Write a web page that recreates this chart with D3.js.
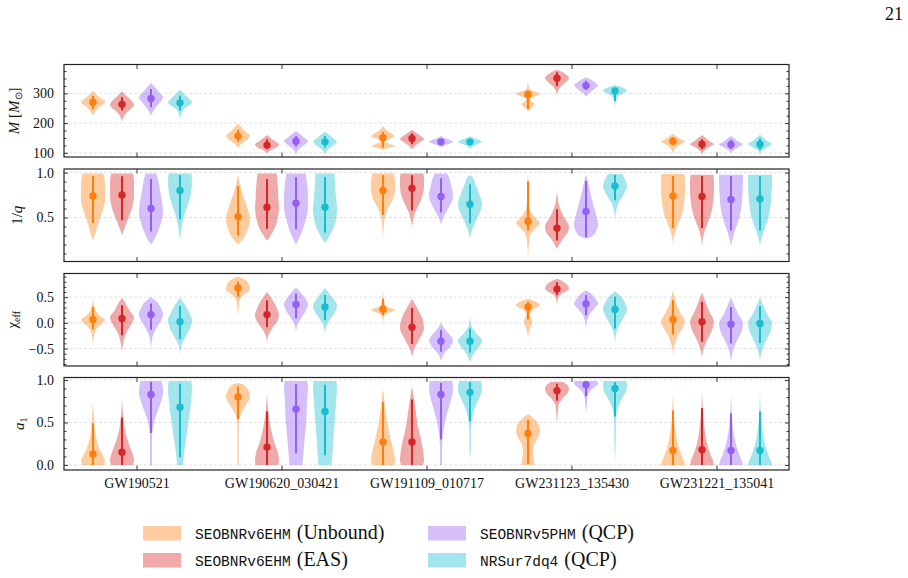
<!DOCTYPE html>
<html>
<head>
<meta charset="utf-8">
<script src="https://cdn.jsdelivr.net/npm/d3@7"></script>
<style>
  body { margin: 0; background: #fff; }
</style>
</head>
<body>
<div id="chart"></div>
<script>
// events on the x axis, waveform models (one violin each)
const events = ["GW190521", "GW190620_030421", "GW191109_010717", "GW231123_135430", "GW231221_135041"];
const modelCodes = ["SEOBNRv6EHM", "SEOBNRv6EHM", "SEOBNRv5PHM", "NRSur7dq4"];
const modelTags = ["(Unbound)", "(EAS)", "(QCP)", "(QCP)"];
const modelColors = ["#ff7f0e", "#d62728", "#9360f6", "#17becf"];

// tick labels per panel
const massTicks = [100, 200, 300];
const invQTicks = [0.5, 1.0];
const chiTicks = [-0.5, 0.0, 0.5];
const a1Ticks = [0.0, 0.5, 1.0];

// each violin: [median, lower, upper, [[value, relative width], ...]]
// order inside an event: Unbound, EAS, v5PHM, NRSur
const massViolins = [
  [
    [270, 247, 292, [[225,0],[240,0.2],[255,0.55],[265,0.9],[272,1],[282,0.7],[295,0.3],[309,0]]],
    [263, 242, 287, [[205,0],[222,0.15],[240,0.5],[252,0.85],[262,1],[275,0.8],[290,0.4],[306,0]]],
    [283, 253, 315, [[225,0],[245,0.25],[265,0.65],[280,0.95],[287,1],[302,0.7],[320,0.35],[335,0]]],
    [268, 242, 292, [[211,0],[230,0.1],[250,0.4],[262,0.85],[270,1],[282,0.75],[298,0.35],[312,0]]]
  ],
  [
    [157, 137, 178, [[118,0],[132,0.35],[148,0.85],[158,1],[170,0.65],[185,0.3],[199,0]]],
    [126, 112, 146, [[99,0],[110,0.35],[120,0.85],[128,1],[138,0.7],[150,0.3],[160,0]]],
    [139, 121, 157, [[98,0],[115,0.3],[130,0.8],[140,1],[152,0.65],[164,0.3],[174,0]]],
    [137, 118, 157, [[96,0],[113,0.3],[128,0.8],[137,1],[150,0.65],[162,0.3],[171,0]]]
  ],
  [
    [151, 118, 171, [[110,0],[116,0.4],[123,1],[130,0.55],[138,0.15],[146,0.45],[154,0.95],[160,0.9],[170,0.5],[180,0.2],[190,0]]],
    [148, 129, 166, [[112,0],[125,0.3],[138,0.75],[146,1],[155,0.8],[166,0.4],[178,0]]],
    [137, 128, 146, [[118,0],[126,0.35],[132,0.8],[137,1],[143,0.75],[150,0.3],[157,0]]],
    [137, 126, 146, [[110,0],[122,0.2],[130,0.65],[137,1],[143,0.75],[150,0.3],[157,0]]]
  ],
  [
    [296, 247, 309, [[236,0],[248,0.15],[256,0.4],[264,0.55],[272,0.3],[280,0.15],[290,0.6],[298,1],[306,0.55],[315,0.15],[325,0.06],[335,0]]],
    [351, 324, 371, [[287,0],[305,0.06],[322,0.3],[338,0.75],[352,1],[365,0.7],[374,0.3],[380,0]]],
    [326, 311, 342, [[289,0],[300,0.25],[315,0.7],[326,1],[338,0.7],[348,0.3],[354,0]]],
    [308, 274, 319, [[252,0],[270,0.06],[290,0.25],[302,0.75],[310,1],[320,0.6],[328,0]]]
  ],
  [
    [139, 126, 152, [[99,0],[115,0.2],[128,0.6],[137,1],[147,0.6],[157,0.25],[165,0]]],
    [129, 112, 146, [[93,0],[108,0.2],[120,0.6],[129,1],[140,0.6],[152,0.25],[160,0]]],
    [128, 113, 144, [[98,0],[110,0.25],[120,0.65],[128,1],[138,0.6],[150,0.25],[157,0]]],
    [129, 110, 148, [[96,0],[110,0.25],[120,0.65],[129,1],[140,0.6],[152,0.25],[161,0]]]
  ]
];

const invQViolins = [
  [
    [0.74, 0.44, 0.96, [[0.245,0],[0.3,0.15],[0.4,0.35],[0.5,0.6],[0.6,0.85],[0.7,1],[0.85,1],[0.95,0.95],[0.99,0.85]]],
    [0.75, 0.47, 0.96, [[0.30,0],[0.35,0.12],[0.45,0.4],[0.55,0.7],[0.65,0.92],[0.75,1],[0.9,1],[0.99,0.9]]],
    [0.60, 0.345, 0.93, [[0.2,0],[0.25,0.25],[0.35,0.6],[0.45,0.85],[0.55,1],[0.65,0.95],[0.8,0.75],[0.92,0.6],[0.99,0.45]]],
    [0.80, 0.48, 0.97, [[0.25,0],[0.35,0.1],[0.5,0.3],[0.6,0.55],[0.7,0.8],[0.8,0.95],[0.9,1],[0.99,0.95]]]
  ],
  [
    [0.51, 0.30, 0.85, [[0.2,0],[0.27,0.45],[0.38,0.85],[0.48,1],[0.58,0.85],[0.7,0.55],[0.8,0.3],[0.9,0.12],[0.975,0]]],
    [0.615, 0.375, 0.93, [[0.24,0],[0.3,0.3],[0.4,0.7],[0.5,0.9],[0.6,1],[0.7,0.95],[0.85,0.9],[0.99,0.8]]],
    [0.66, 0.37, 0.95, [[0.2,0],[0.28,0.3],[0.4,0.65],[0.5,0.85],[0.6,1],[0.75,1],[0.9,0.9],[0.99,0.8]]],
    [0.615, 0.333, 0.95, [[0.215,0],[0.28,0.3],[0.4,0.75],[0.5,0.95],[0.6,1],[0.72,0.92],[0.85,0.85],[0.99,0.8]]]
  ],
  [
    [0.80, 0.53, 0.97, [[0.26,0],[0.4,0.06],[0.5,0.15],[0.6,0.4],[0.7,0.8],[0.8,1],[0.9,1],[0.99,0.9]]],
    [0.826, 0.578, 0.97, [[0.38,0],[0.45,0.06],[0.55,0.25],[0.65,0.6],[0.75,0.9],[0.85,1],[0.95,1],[0.99,0.95]]],
    [0.733, 0.555, 0.937, [[0.426,0],[0.5,0.2],[0.6,0.6],[0.7,0.95],[0.75,1],[0.85,0.85],[0.95,0.65],[0.99,0.5]]],
    [0.648, 0.437, 0.87, [[0.263,0],[0.35,0.15],[0.45,0.45],[0.55,0.8],[0.65,1],[0.75,0.8],[0.85,0.5],[0.95,0.2],[0.974,0]]]
  ],
  [
    [0.456, 0.356, 0.90, [[0.056,0],[0.2,0.07],[0.3,0.15],[0.38,0.6],[0.44,1],[0.5,0.6],[0.6,0.15],[0.7,0.09],[0.85,0.07],[0.985,0]]],
    [0.38, 0.244, 0.593, [[0.148,0],[0.2,0.2],[0.28,0.6],[0.35,0.95],[0.4,1],[0.5,0.6],[0.6,0.25],[0.7,0.08],[0.807,0]]],
    [0.567, 0.281, 0.907, [[0.263,0],[0.29,0.5],[0.35,0.85],[0.42,1],[0.5,0.9],[0.6,0.7],[0.7,0.5],[0.8,0.32],[0.9,0.15],[0.985,0]]],
    [0.852, 0.689, 0.974, [[0.456,0],[0.55,0.06],[0.65,0.25],[0.75,0.7],[0.85,1],[0.92,0.85],[0.985,0.6]]]
  ],
  [
    [0.74, 0.381, 0.963, [[0.185,0],[0.3,0.1],[0.4,0.35],[0.5,0.65],[0.6,0.85],[0.7,0.95],[0.8,1],[0.9,1],[0.985,0.95]]],
    [0.733, 0.381, 0.963, [[0.17,0],[0.3,0.12],[0.4,0.35],[0.5,0.65],[0.6,0.85],[0.7,0.95],[0.8,1],[0.9,1],[0.975,0.95]]],
    [0.70, 0.356, 0.963, [[0.185,0],[0.3,0.2],[0.4,0.45],[0.5,0.7],[0.6,0.85],[0.75,0.95],[0.9,1],[0.975,1]]],
    [0.707, 0.356, 0.963, [[0.196,0],[0.3,0.2],[0.4,0.45],[0.5,0.7],[0.6,0.85],[0.75,0.95],[0.9,1],[0.975,1]]]
  ]
];

const chiViolins = [
  [
    [0.065, -0.12, 0.31, [[-0.4,0],[-0.3,0.06],[-0.15,0.2],[-0.02,0.7],[0.06,1],[0.15,0.5],[0.3,0.15],[0.49,0]]],
    [0.084, -0.24, 0.34, [[-0.58,0],[-0.4,0.1],[-0.2,0.35],[-0.02,0.8],[0.1,1],[0.25,0.6],[0.4,0.25],[0.49,0]]],
    [0.16, -0.14, 0.377, [[-0.53,0],[-0.3,0.1],[-0.1,0.45],[0.05,0.85],[0.18,1],[0.3,0.8],[0.42,0.45],[0.5,0]]],
    [0.02, -0.32, 0.33, [[-0.63,0],[-0.45,0.1],[-0.3,0.4],[-0.1,0.85],[0.05,1],[0.2,0.75],[0.35,0.4],[0.49,0]]]
  ],
  [
    [0.68, 0.506, 0.80, [[0.117,0],[0.3,0.06],[0.45,0.15],[0.55,0.5],[0.65,1],[0.75,0.9],[0.85,0.5],[0.9,0]]],
    [0.16, -0.08, 0.44, [[-0.39,0],[-0.25,0.1],[-0.1,0.45],[0.05,0.9],[0.15,1],[0.3,0.8],[0.45,0.45],[0.6,0]]],
    [0.357, 0.084, 0.57, [[-0.175,0],[-0.05,0.1],[0.1,0.45],[0.25,0.85],[0.36,1],[0.5,0.7],[0.6,0.35],[0.69,0]]],
    [0.31, 0.05, 0.54, [[-0.21,0],[-0.08,0.1],[0.08,0.45],[0.22,0.85],[0.33,1],[0.45,0.75],[0.57,0.35],[0.68,0]]]
  ],
  [
    [0.266, 0.15, 0.47, [[-0.1,0],[0.1,0.06],[0.18,0.3],[0.25,1],[0.32,0.3],[0.45,0.08],[0.655,0]]],
    [-0.084, -0.41, 0.29, [[-0.66,0],[-0.5,0.2],[-0.3,0.65],[-0.1,1],[0.1,0.85],[0.3,0.4],[0.47,0]]],
    [-0.357, -0.565, -0.14, [[-0.75,0],[-0.6,0.25],[-0.45,0.8],[-0.35,1],[-0.2,0.6],[-0.1,0.25],[0.006,0]]],
    [-0.357, -0.578, -0.11, [[-0.76,0],[-0.6,0.3],[-0.45,0.8],[-0.35,1],[-0.2,0.5],[-0.05,0.1],[0.16,0]]]
  ],
  [
    [0.31, 0.07, 0.41, [[-0.37,0],[-0.2,0.06],[-0.08,0.2],[0,0.35],[0.07,0.3],[0.15,0.15],[0.25,0.4],[0.34,1],[0.42,0.6],[0.47,0]]],
    [0.656, 0.54, 0.79, [[0.31,0],[0.45,0.06],[0.55,0.3],[0.62,0.8],[0.67,1],[0.75,0.8],[0.82,0.4],[0.86,0]]],
    [0.37, 0.15, 0.54, [[-0.11,0],[0,0.06],[0.15,0.25],[0.28,0.7],[0.37,1],[0.48,0.75],[0.58,0.35],[0.636,0]]],
    [0.26, -0.11, 0.506, [[-0.42,0],[-0.25,0.06],[-0.1,0.25],[0.1,0.7],[0.26,1],[0.4,0.8],[0.52,0.45],[0.617,0]]]
  ],
  [
    [0.065, -0.227, 0.44, [[-0.63,0],[-0.45,0.1],[-0.25,0.4],[-0.05,0.9],[0.03,1],[0.2,0.6],[0.4,0.25],[0.636,0]]],
    [0.02, -0.37, 0.41, [[-0.68,0],[-0.5,0.15],[-0.3,0.5],[-0.1,0.9],[0.02,1],[0.2,0.65],[0.4,0.3],[0.6,0]]],
    [-0.026, -0.4, 0.31, [[-0.75,0],[-0.55,0.15],[-0.35,0.5],[-0.15,0.9],[-0.01,1],[0.15,0.65],[0.35,0.25],[0.49,0]]],
    [-0.013, -0.39, 0.33, [[-0.74,0],[-0.55,0.15],[-0.35,0.5],[-0.15,0.9],[0,1],[0.15,0.65],[0.35,0.25],[0.5,0]]]
  ]
];

const a1Violins = [
  [
    [0.13, 0.0, 0.49, [[0,0.9],[0.05,1],[0.1,0.85],[0.2,0.5],[0.3,0.3],[0.4,0.17],[0.5,0.1],[0.6,0.06],[0.74,0]]],
    [0.15, 0.0, 0.56, [[0,0.9],[0.05,1],[0.1,0.95],[0.2,0.7],[0.3,0.45],[0.4,0.25],[0.5,0.15],[0.6,0.08],[0.81,0]]],
    [0.83, 0.376, 0.976, [[0,0.08],[0.2,0.08],[0.35,0.09],[0.45,0.17],[0.55,0.35],[0.65,0.6],[0.75,0.85],[0.85,1],[0.95,0.95],[0.99,0.85]]],
    [0.68, 0.09, 0.957, [[0,0.25],[0.1,0.3],[0.2,0.4],[0.35,0.55],[0.5,0.7],[0.65,0.85],[0.8,0.95],[0.9,1],[0.99,0.95]]]
  ],
  [
    [0.80, 0.54, 0.925, [[0,0.06],[0.3,0.06],[0.5,0.08],[0.6,0.25],[0.7,0.65],[0.8,1],[0.88,0.85],[0.95,0.4],[0.965,0]]],
    [0.21, 0.0, 0.63, [[0,0.95],[0.05,1],[0.15,0.9],[0.25,0.65],[0.35,0.45],[0.45,0.3],[0.55,0.18],[0.65,0.1],[0.84,0]]],
    [0.66, 0.14, 0.95, [[0,0.55],[0.1,0.6],[0.2,0.65],[0.35,0.75],[0.5,0.85],[0.65,0.9],[0.8,0.95],[0.9,1],[0.99,0.95]]],
    [0.63, 0.114, 0.945, [[0,0.55],[0.1,0.6],[0.2,0.65],[0.35,0.72],[0.5,0.8],[0.65,0.88],[0.8,0.95],[0.9,1],[0.99,0.95]]]
  ],
  [
    [0.27, 0.0, 0.74, [[0,0.9],[0.05,1],[0.15,0.9],[0.3,0.65],[0.4,0.5],[0.5,0.35],[0.6,0.25],[0.7,0.15],[0.8,0.08],[0.9,0]]],
    [0.27, 0.0, 0.77, [[0,0.9],[0.05,1],[0.15,0.95],[0.3,0.75],[0.45,0.5],[0.6,0.35],[0.7,0.25],[0.8,0.15],[0.925,0]]],
    [0.83, 0.30, 0.965, [[0,0.08],[0.2,0.08],[0.3,0.12],[0.45,0.25],[0.6,0.5],[0.7,0.7],[0.8,0.9],[0.9,1],[0.99,0.95]]],
    [0.855, 0.514, 0.976, [[0.06,0],[0.2,0.06],[0.4,0.07],[0.55,0.15],[0.65,0.35],[0.75,0.65],[0.85,0.95],[0.92,1],[0.99,0.9]]]
  ],
  [
    [0.37, 0.01, 0.53, [[0,0.55],[0.05,0.5],[0.15,0.42],[0.25,0.55],[0.33,0.85],[0.4,1],[0.47,0.9],[0.53,0.6],[0.6,0]]],
    [0.875, 0.757, 0.957, [[0.49,0],[0.6,0.06],[0.7,0.12],[0.78,0.45],[0.85,0.9],[0.9,1],[0.95,0.8],[0.98,0.5]]],
    [0.945, 0.81, 0.985, [[0.6,0],[0.7,0.06],[0.8,0.12],[0.88,0.4],[0.93,0.85],[0.96,1],[0.99,0.95]]],
    [0.90, 0.57, 0.976, [[0.035,0],[0.3,0.06],[0.5,0.07],[0.6,0.12],[0.7,0.3],[0.8,0.65],[0.88,0.95],[0.93,1],[0.99,0.95]]]
  ],
  [
    [0.17, 0.0, 0.64, [[0,1],[0.05,0.9],[0.1,0.75],[0.2,0.5],[0.3,0.33],[0.4,0.22],[0.5,0.13],[0.6,0.08],[0.7,0.05],[0.847,0]]],
    [0.18, 0.0, 0.67, [[0,1],[0.05,0.92],[0.1,0.78],[0.2,0.52],[0.3,0.35],[0.4,0.23],[0.5,0.15],[0.6,0.09],[0.7,0.05],[0.867,0]]],
    [0.17, 0.0, 0.61, [[0,1],[0.05,0.9],[0.1,0.75],[0.2,0.5],[0.3,0.33],[0.4,0.2],[0.5,0.12],[0.6,0.07],[0.7,0.04],[0.835,0]]],
    [0.17, 0.0, 0.63, [[0,1],[0.05,0.9],[0.1,0.75],[0.2,0.5],[0.3,0.33],[0.4,0.21],[0.5,0.13],[0.6,0.07],[0.7,0.04],[0.847,0]]]
  ]
];

const SERIF = "'Liberation Serif', 'Times New Roman', serif";
const MONO = "'Liberation Mono', 'DejaVu Sans Mono', monospace";

const W = 908, H = 578;
const svg = d3.select("#chart").append("svg").attr("width", W).attr("height", H)
  .style("font-family", SERIF);

const x = d3.scaleLinear().domain([-0.5, 4.5]).range([64, 789]);
const offsets = [-0.3, -0.1, 0.1, 0.3];
const halfW = 12;
const panelTop = [64.5, 169, 273.5, 377.5];
const panelH = 92.5;

const panels = [
  { data: massViolins, domain: [86, 397], ticks: massTicks, minor: 25, fmt: d3.format("d"), label: "mass", lx: 19 },
  { data: invQViolins, domain: [0.01, 1.04], ticks: invQTicks, minor: 0.1, fmt: d3.format(".1f"), label: "invq", lx: 22 },
  { data: chiViolins, domain: [-0.84, 0.96], ticks: chiTicks, minor: 0.1, fmt: d3.format(".1f"), label: "chi", lx: 17 },
  { data: a1Violins, domain: [-0.06, 1.03], ticks: a1Ticks, minor: 0.1, fmt: d3.format(".1f"), label: "a1", lx: 24 }
];

const minorValues = (domain, step, major) => {
  const lo = Math.ceil(domain[0] / step - 1e-9), hi = Math.floor(domain[1] / step + 1e-9);
  return d3.range(lo, hi + 1).map(k => +(k * step).toFixed(4))
    .filter(v => !major.some(m => Math.abs(m - v) < 1e-6));
};

const styleAxis = (a) => {
  a.select(".domain").remove();
  a.attr("font-family", null).attr("font-size", null);
  a.selectAll("line").attr("stroke", "#222").attr("stroke-width", 0.9);
  a.selectAll("text").style("font-family", SERIF).style("font-size", "14px").attr("fill", "#111");
};

const drawYLabel = (g, kind, cx, cy) => {
  const t = g.append("text")
    .attr("transform", `translate(${cx},${cy}) rotate(-90)`)
    .attr("text-anchor", "middle")
    .style("font-family", SERIF)
    .style("font-size", "15px")
    .attr("fill", "#111");
  if (kind === "mass") {
    t.append("tspan").attr("font-style", "italic").text("M");
    t.append("tspan").text(" [");
    t.append("tspan").attr("font-style", "italic").text("M");
    t.append("tspan").style("font-size", "10px").attr("dy", 3).text("\u2299");
    t.append("tspan").attr("dy", -3).text("]");
  } else if (kind === "invq") {
    t.append("tspan").text("1/");
    t.append("tspan").attr("font-style", "italic").text("q");
  } else if (kind === "chi") {
    t.append("tspan").text("\u03c7");
    t.append("tspan").style("font-size", "10px").attr("dy", 3).text("eff");
  } else {
    t.append("tspan").attr("font-style", "italic").text("a");
    t.append("tspan").style("font-size", "10px").attr("dy", 3).text("1");
  }
};

panels.forEach((p, i) => {
  const top = panelTop[i], bottom = top + panelH;
  const [x0, x1] = x.range();
  const y = d3.scaleLinear().domain(p.domain).range([bottom, top]);
  const g = svg.append("g").attr("class", `panel-${i}`);

  g.append("clipPath").attr("id", `clip-${i}`)
    .append("rect").attr("x", x0).attr("y", top).attr("width", x1 - x0).attr("height", panelH);

  // dashed grid at major ticks
  g.selectAll(".grid").data(p.ticks).join("line")
    .attr("class", "grid")
    .attr("x1", x0).attr("x2", x1)
    .attr("y1", d => y(d)).attr("y2", d => y(d))
    .attr("stroke", "#dcdcdc").attr("stroke-width", 0.8).attr("stroke-dasharray", "3,2");

  const plot = g.append("g").attr("clip-path", `url(#clip-${i})`);

  p.data.forEach((ev, ei) => {
    ev.forEach((v, mi) => {
      const cx = x(ei + offsets[mi]);
      const area = d3.area()
        .y(d => y(d[0]))
        .x0(d => cx - halfW * d[1])
        .x1(d => cx + halfW * d[1])
        .curve(d3.curveMonotoneY);
      plot.append("path")
        .attr("d", area(v[3]))
        .attr("fill", modelColors[mi])
        .attr("fill-opacity", 0.4);
      plot.append("line")
        .attr("x1", cx).attr("x2", cx)
        .attr("y1", y(v[1])).attr("y2", y(v[2]))
        .attr("stroke", modelColors[mi]).attr("stroke-width", 2);
      plot.append("circle")
        .attr("cx", cx).attr("cy", y(v[0])).attr("r", 3.7)
        .attr("fill", modelColors[mi]);
    });
  });

  const minors = minorValues(p.domain, p.minor, p.ticks);

  g.append("g").attr("transform", `translate(${x0},0)`)
    .call(d3.axisLeft(y).tickValues(p.ticks).tickFormat(p.fmt).tickSize(-4).tickPadding(10))
    .call(styleAxis);
  g.append("g").attr("transform", `translate(${x0},0)`)
    .call(d3.axisLeft(y).tickValues(minors).tickFormat("").tickSize(-2.5))
    .call(styleAxis);
  g.append("g").attr("transform", `translate(${x1},0)`)
    .call(d3.axisRight(y).tickValues(p.ticks).tickFormat("").tickSize(-4))
    .call(styleAxis);
  g.append("g").attr("transform", `translate(${x1},0)`)
    .call(d3.axisRight(y).tickValues(minors).tickFormat("").tickSize(-2.5))
    .call(styleAxis);

  const idx = events.map((_, k) => k);
  g.append("g").attr("transform", `translate(0,${top})`)
    .call(d3.axisTop(x).tickValues(idx).tickFormat("").tickSize(-4.5))
    .call(styleAxis);
  g.append("g").attr("transform", `translate(0,${bottom})`)
    .call(d3.axisBottom(x).tickValues(idx)
      .tickFormat(i === panels.length - 1 ? (k => events[k]) : "")
      .tickSize(-4.5).tickPadding(8))
    .call(styleAxis);

  g.append("rect")
    .attr("x", x0).attr("y", top).attr("width", x1 - x0).attr("height", panelH)
    .attr("fill", "none").attr("stroke", "#222").attr("stroke-width", 1.2);

  drawYLabel(g, p.label, p.lx, top + panelH / 2);
});

// legend, two columns
const legendCol = [143, 428];
const legendRow = [526, 553];
const legend = svg.append("g").attr("class", "legend");
modelCodes.forEach((code, k) => {
  const col = Math.floor(k / 2), row = k % 2;
  const lx = legendCol[col], ly = legendRow[row];
  legend.append("rect")
    .attr("x", lx).attr("y", ly).attr("width", 38).attr("height", 14.5)
    .attr("fill", modelColors[k]).attr("fill-opacity", 0.4);
  const t = legend.append("text").attr("x", lx + 52).attr("y", ly + 12.5).attr("fill", "#111");
  t.append("tspan").style("font-family", MONO).style("font-size", "14.5px").text(code);
  t.append("tspan").style("font-family", SERIF).style("font-size", "20px").attr("dx", 6).text(modelTags[k]);
});

// page number
svg.append("text")
  .attr("x", 903).attr("y", 20)
  .attr("text-anchor", "end")
  .style("font-family", SERIF)
  .style("font-size", "18px")
  .attr("fill", "#111")
  .text("21");
</script>
</body>
</html>
